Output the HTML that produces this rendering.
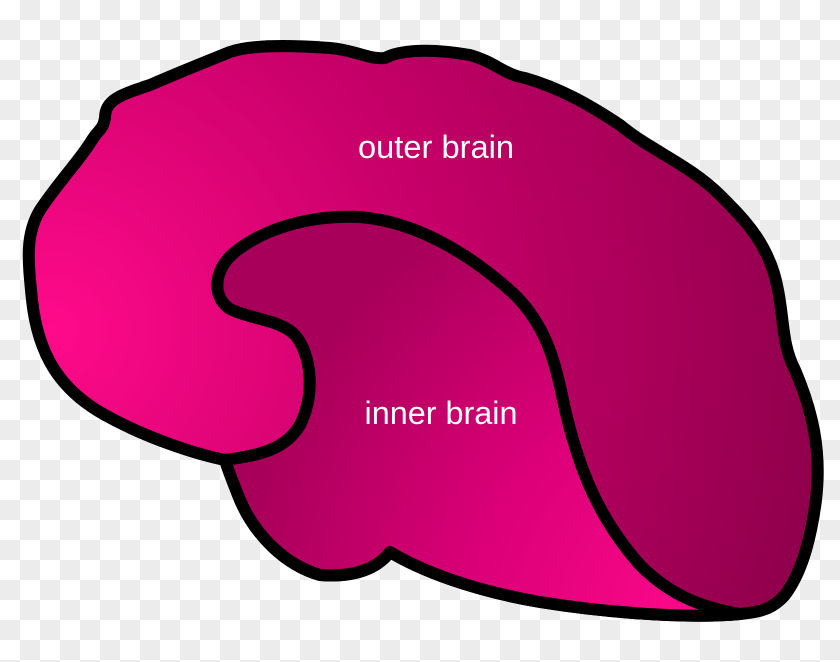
<!DOCTYPE html>
<html><head><style>
html,body{margin:0;padding:0;}
body{width:840px;height:662px;overflow:hidden;background-color:#fff;
background-image:linear-gradient(45deg,#ececec 25%,transparent 25%,transparent 75%,#ececec 75%),linear-gradient(45deg,#ececec 25%,transparent 25%,transparent 75%,#ececec 75%);
background-size:40px 40px;background-position:0 0,20px 20px;}
svg{display:block}
</style></head><body>
<svg width="840" height="662" viewBox="0 0 840 662" xmlns="http://www.w3.org/2000/svg">
<defs>
<radialGradient id="g1" cx="50" cy="330" r="780" gradientUnits="userSpaceOnUse">
<stop offset="0" stop-color="#ff0a8a"/>
<stop offset="0.5" stop-color="#c60068"/>
<stop offset="1" stop-color="#90004c"/>
</radialGradient>
<radialGradient id="g2" cx="720" cy="620" r="480" gradientUnits="userSpaceOnUse">
<stop offset="0" stop-color="#ff0a8c"/>
<stop offset="0.5" stop-color="#dc0078"/>
<stop offset="1" stop-color="#a8005a"/>
</radialGradient>
</defs>
<path d="M105,118 C105,100 120,95 150,85 C180,72 205,62 230,52 C250,45 290,45 330,48 C355,50 370,60 385,58 C400,50 430,48 470,55 C495,62 505,75 525,78 C560,88 590,105 620,125 C650,150 690,165 720,195 C745,220 770,245 778,290 C784,320 782,345 795,370 C812,410 822,450 816,500 C810,545 800,575 785,595 C770,612 755,612 740,614 C700,618 620,615 540,602 C470,590 420,570 390,552 C380,565 360,578 320,575 C285,565 255,535 240,500 C232,480 228,470 225,460 C200,455 150,440 105,415 C60,390 38,355 32,300 C28,260 25,235 40,210 C60,180 80,160 92,140 C98,130 103,130 105,118 Z" fill="url(#g1)" stroke="#000" stroke-width="12" stroke-linejoin="round"/>
<path d="M225,460 C260,455 285,450 300,425 C315,395 312,355 295,335 C280,320 255,320 232,310 C212,300 212,270 235,252 C265,228 310,215 360,217 C420,222 475,258 515,295 C545,325 555,360 563,400 C578,470 600,520 640,565 C670,595 700,607 740,614 C700,618 620,615 540,602 C470,590 420,570 390,552 C380,565 360,578 320,575 C285,565 255,535 240,500 C232,480 228,470 225,460 Z" fill="url(#g2)" stroke="none"/>
<path d="M225,460 C260,455 285,450 300,425 C315,395 312,355 295,335 C280,320 255,320 232,310 C212,300 212,270 235,252 C265,228 310,215 360,217 C420,222 475,258 515,295 C545,325 555,360 563,400 C578,470 600,520 640,565 C670,595 700,607 740,614" fill="none" stroke="#000" stroke-width="12" stroke-linecap="round" stroke-linejoin="round"/>
<path d="M225,460 C228,470 232,480 240,500 C255,535 285,565 320,575 C360,578 380,565 390,552 C420,570 470,590 540,602 C620,615 700,618 740,614" fill="none" stroke="#000" stroke-width="12" stroke-linejoin="round"/>
<text x="436" y="158" font-family="Liberation Sans, sans-serif" font-size="32" fill="#fff" text-anchor="middle" textLength="156" lengthAdjust="spacingAndGlyphs">outer brain</text>
<text x="441" y="424" font-family="Liberation Sans, sans-serif" font-size="32" fill="#fff" text-anchor="middle" textLength="153" lengthAdjust="spacingAndGlyphs">inner brain</text>
</svg>
</body></html>
